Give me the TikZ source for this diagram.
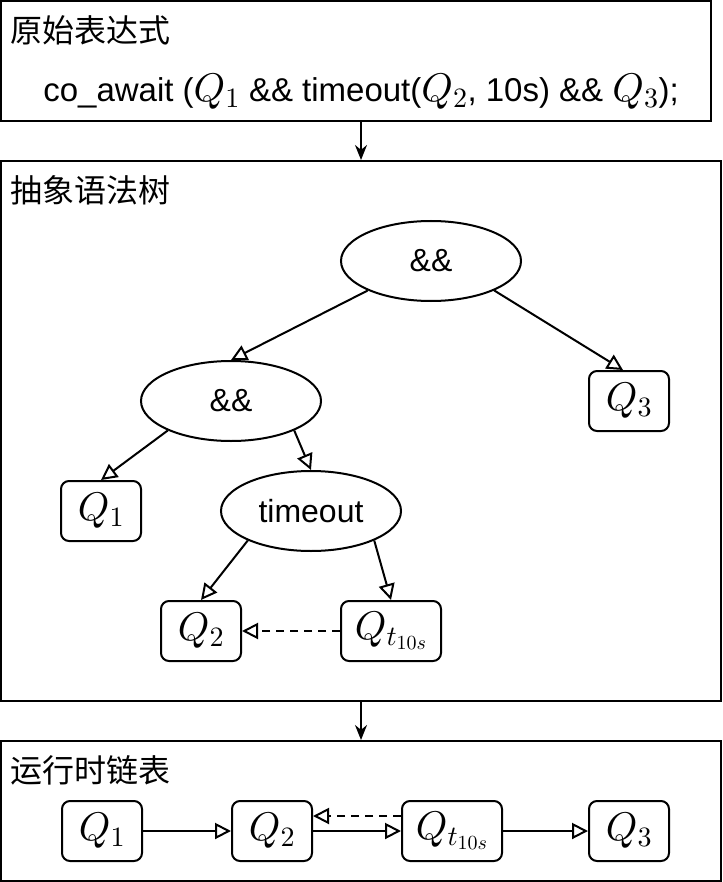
\RequirePackage{fix-cm}
\documentclass[tikz,border=0pt]{standalone}
\usepackage{fontspec}
\setmainfont{Liberation Sans}
\newfontfamily\cjk{Noto Sans CJK SC}
\usetikzlibrary{arrows.meta, shapes.geometric}
\DeclareFontShape{OML}{cmm}{m}{it}{<->cmmi10}{\skewchar\font'177}
\DeclareFontShape{OT1}{cmr}{m}{n}{<->cmr10}{}

\newcommand\qsym[1]{{\fontsize{40}{48}\selectfont$#1$}}

\tikzset{
  panel/.style={draw, line width=2pt, inner sep=0pt},
  panelhead/.style={anchor=west, inner sep=0pt, font=\cjk\fontsize{32}{38}\selectfont},
  qbox/.style={draw, line width=2pt, rounded corners=8pt, minimum width=80pt, minimum height=60pt, inner sep=0pt},
  opnode/.style={draw, ellipse, line width=2pt, minimum width=180pt, minimum height=80pt, inner sep=0pt},
  treeedge/.style={line width=2pt, -{Triangle[open, length=16pt, width=16pt]}},
  flow/.style={line width=2pt, -{Stealth[length=15pt, width=12pt]}},
}

\begin{document}
\begin{tikzpicture}[x=1pt, y=-1pt, font=\fontsize{32}{38}\selectfont]
  \useasboundingbox (0,0) rectangle (722,882);
  \node[panel, minimum width=710pt, minimum height=120pt] (top) at (356,61) {};
  \node[panel, minimum width=720pt, minimum height=540pt] (mid) at (361,431) {};
  \node[panel, minimum width=720pt, minimum height=140pt] (bot) at (361,811) {};
  \node[panelhead] (toph) at (10,30) {原始表达式};
  \node[panelhead] (midh) at (10,190) {抽象语法树};
  \node[panelhead] (both) at (10,770) {运行时链表};
  \node[inner sep=0pt, font=\fontsize{33}{39}\selectfont] (expr) at (361,92) {co\_await (\qsym{Q_1}\ \&\& timeout(\qsym{Q_2}, 10s) \&\& \qsym{Q_3});};
  \draw[flow] (top.south -| mid.north) -- (mid.north);
  \draw[flow] (mid.south) -- (bot.north);

  \node[opnode] (and1) at (431,261) {\&\&};
  \node[opnode] (and2) at (231,401) {\&\&};
  \node[opnode] (tmo) at (311,511) {timeout};
  \node[qbox] (q3) at (629,401) {\qsym{Q_3}};
  \node[qbox] (q1) at (101,511) {\qsym{Q_1}};
  \node[qbox] (q2) at (201,631) {\qsym{Q_2}};
  \node[qbox, minimum width=100pt] (qt) at (391,631) {\qsym{Q_{t_{10s}}}};
  \draw[treeedge] (and1.-155) -- (and2.north);
  \draw[treeedge] (and1.-25) -- ([xshift=-6pt]q3.north);
  \draw[treeedge] (and2.-155) -- (q1.north);
  \draw[treeedge] (and2.-25) -- (tmo.north);
  \draw[treeedge] (tmo.-155) -- (q2.north);
  \draw[treeedge] (tmo.-25) -- (qt.north);
  \draw[treeedge, dash pattern=on 8pt off 6pt] (qt.west) -- (q2.east);

  \node[qbox] (bq1) at (102,831) {\qsym{Q_1}};
  \node[qbox] (bq2) at (272,831) {\qsym{Q_2}};
  \node[qbox, minimum width=100pt] (bqt) at (452,831) {\qsym{Q_{t_{10s}}}};
  \node[qbox] (bq3) at (629,831) {\qsym{Q_3}};
  \draw[treeedge] (bq1) -- (bq2);
  \draw[treeedge] (bq2) -- (bqt);
  \draw[treeedge] (bqt) -- (bq3);
  \draw[treeedge, dash pattern=on 8pt off 6pt] ([yshift=15pt]bqt.west) -- ([yshift=15pt]bq2.east);
\end{tikzpicture}
\end{document}
